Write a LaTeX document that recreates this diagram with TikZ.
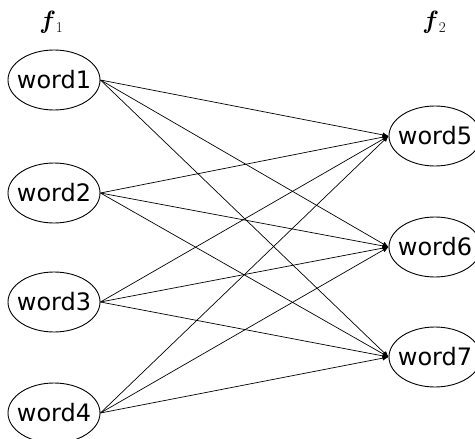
\documentclass[tikz,border=0pt]{standalone}
\usepackage{fontspec}
\newfontfamily\wordfont{DejaVu Sans}
\usetikzlibrary{shapes.geometric,arrows.meta}
\tikzset{
  wnode/.style={ellipse,draw,line width=0.9pt,minimum width=92pt,minimum height=60pt,inner xsep=-5pt,inner ysep=0pt,font=\wordfont\fontsize{24}{24}\selectfont},
  link/.style={line width=0.7pt,-{Latex[length=6pt,width=5pt]}},
  flabel/.style={inner sep=0pt,font=\fontsize{25}{25}\selectfont}
}
\newcommand{\flab}[1]{\textbf{\textit{f}}\kern1pt\raisebox{-4pt}{\fontsize{15}{15}\selectfont #1}}
\begin{document}
\begin{tikzpicture}[x=1pt,y=-1pt]
\useasboundingbox (0,0) rectangle (475,439);
\clip (0,0) rectangle (475,439);
\node[flabel] (f1) at (52,22) {\flab{1}};
\node[flabel] (f2) at (435,22) {\flab{2}};
\node[wnode] (w1) at (54,80) {word1};
\node[wnode] (w2) at (54,193) {word2};
\node[wnode] (w3) at (54,302) {word3};
\node[wnode] (w4) at (54,413) {word4};
\node[wnode] (w5) at (435,136) {word5};
\node[wnode] (w6) at (435,247) {word6};
\node[wnode] (w7) at (435,357) {word7};
\foreach \a in {w1,w2,w3,w4}{
  \foreach \b in {w5,w6,w7}{
    \draw[link] (\a.east) -- (\b.west);
  }
}
\end{tikzpicture}
\end{document}
